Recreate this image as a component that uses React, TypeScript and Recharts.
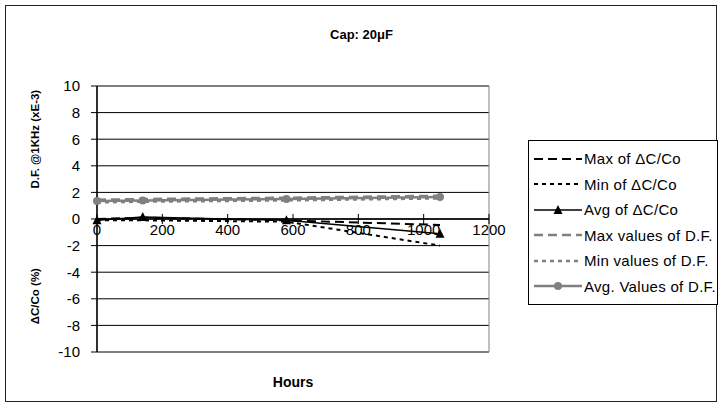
import { CartesianGrid, Legend, Line, LineChart, ReferenceArea, ReferenceDot, ReferenceLine, XAxis, YAxis } from "recharts"

const hours = [0, 140, 580, 1050]
const maxDC = [0.0, 0.1, -0.1, -0.45]
const minDC = [-0.1, -0.1, -0.2, -2.0]
const avgDC = [-0.1, 0.15, -0.1, -1.1]
const maxDF = [1.45, 1.5, 1.6, 1.75]
const minDF = [1.25, 1.3, 1.4, 1.55]
const avgDF = [1.35, 1.4, 1.5, 1.65]
const xTicks = [0, 200, 400, 600, 800, 1000, 1200]
const yTicks = [-10, -8, -6, -4, -2, 0, 2, 4, 6, 8, 10]

const data = hours.map((h, i) => ({
    hours: h,
    maxDC: maxDC[i],
    minDC: minDC[i],
    avgDC: avgDC[i],
    maxDF: maxDF[i],
    minDF: minDF[i],
    avgDF: avgDF[i],
}))

const FONT = "'Liberation Sans', Arial, sans-serif"
const GRAY = "#808080"

const series = [
    { key: "maxDC", name: "Max of ΔC/Co", color: "#000", dash: "9 5", width: 2, marker: "none" },
    { key: "minDC", name: "Min of ΔC/Co", color: "#000", dash: "4 4", width: 2, marker: "none" },
    { key: "avgDC", name: "Avg of ΔC/Co", color: "#000", dash: undefined, width: 1.5, marker: "triangle" },
    { key: "maxDF", name: "Max values of D.F.", color: GRAY, dash: "9 5", width: 2.5, marker: "none" },
    { key: "minDF", name: "Min values of D.F.", color: GRAY, dash: "4 4", width: 2.5, marker: "none" },
    { key: "avgDF", name: "Avg. Values of D.F.", color: GRAY, dash: undefined, width: 2.5, marker: "circle" },
]

const Triangle = (props: any) => {
    const { cx, cy } = props
    if (cx == null || cy == null) return null
    return <polygon points={`${cx},${cy - 5} ${cx - 4.5},${cy + 4} ${cx + 4.5},${cy + 4}`} fill="#000" />
}

const Dot = (props: any) => {
    const { cx, cy } = props
    if (cx == null || cy == null) return null
    return <circle cx={cx} cy={cy} r={4} fill={GRAY} />
}

const YLabels = (props: any) => {
    const vb = props.viewBox || { x: 0, y: 0, height: 0 }
    const x = vb.x + 35
    const top = vb.y + vb.height * 0.2
    const bottom = vb.y + vb.height * 0.79
    const style = { fontFamily: FONT, fontSize: 11.5, fontWeight: 700 }
    return (
        <g>
            <text x={x} y={top} transform={`rotate(-90 ${x} ${top})`} textAnchor="middle" dominantBaseline="central" style={style}>
                D.F. @1KHz (xE-3)
            </text>
            <text x={x} y={bottom} transform={`rotate(-90 ${x} ${bottom})`} textAnchor="middle" dominantBaseline="central" style={style}>
                ΔC/Co (%)
            </text>
        </g>
    )
}

const LegendBox = () => (
    <div style={{ border: "1px solid #000", background: "#fff", padding: "5px 0 5px 5px", fontFamily: FONT, fontSize: 15, letterSpacing: 0.3 }}>
        {series.map((s) => (
            <div key={s.key} style={{ display: "flex", alignItems: "center", height: 25.5 }}>
                <svg width={48} height={12} style={{ marginRight: 2 }}>
                    <line x1={0} y1={6} x2={48} y2={6} stroke={s.color} strokeWidth={s.width} strokeDasharray={s.dash} />
                    {s.marker === "triangle" && <polygon points="24,1 19.5,10 28.5,10" fill="#000" />}
                    {s.marker === "circle" && <circle cx={24} cy={6} r={4} fill={GRAY} />}
                </svg>
                <span style={{ whiteSpace: "nowrap" }}>{s.name}</span>
            </div>
        ))}
    </div>
)

const App = () => {
    return (
        <div style={{ position: "absolute", left: 0, top: 0, width: 723, height: 408, background: "#fff" }}>
            <div style={{ position: "absolute", left: 5, top: 5, width: 710, height: 395, border: "1.5px solid #222" }} />
            <div style={{ position: "absolute", left: 0, top: 27, width: 723, textAlign: "center", fontFamily: FONT, fontSize: 13, fontWeight: 700 }}>
                Cap: 20μF
            </div>
            <LineChart width={723} height={408} data={data} margin={{ top: 86, right: 234, bottom: 0, left: 0 }} style={{ position: "absolute", left: 0, top: 0 }}>
                <CartesianGrid vertical={false} stroke="#000" strokeWidth={1} horizontalValues={yTicks} />
                <ReferenceArea x1={0} x2={1200} y1={-10} y2={10} fill="none" stroke={GRAY} strokeWidth={1} />
                <XAxis
                    type="number"
                    dataKey="hours"
                    domain={[0, 1200]}
                    ticks={xTicks}
                    tick={false}
                    tickLine={false}
                    axisLine={false}
                    height={56}
                    label={{ value: "Hours", position: "insideBottom", offset: 21, style: { fontFamily: FONT, fontSize: 14, fontWeight: 700, fill: "#000" } }}
                />
                <YAxis
                    type="number"
                    domain={[-10, 10]}
                    ticks={yTicks}
                    interval={0}
                    width={97}
                    tickSize={6}
                    tickMargin={11}
                    tickLine={{ stroke: "#000" }}
                    axisLine={{ stroke: "#000", strokeWidth: 1.5 }}
                    tick={{ fontFamily: FONT, fontSize: 15, fill: "#000" }}
                    label={<YLabels />}
                />
                <ReferenceLine y={0} stroke="#000" strokeWidth={1.5} />
                {xTicks.map((t) => (
                    <ReferenceLine key={"tl" + t} segment={[{ x: t, y: -0.38 }, { x: t, y: 0.38 }]} stroke="#000" strokeWidth={1} />
                ))}
                {xTicks.map((t) => (
                    <ReferenceDot
                        key={"td" + t}
                        x={t}
                        y={0}
                        r={0}
                        fill="none"
                        stroke="none"
                        label={{ value: String(t), position: "bottom", offset: 5, style: { fontFamily: FONT, fontSize: 15, fill: "#000" } }}
                    />
                ))}
                {series.map((s) => (
                    <Line
                        key={s.key}
                        type="linear"
                        dataKey={s.key}
                        name={s.name}
                        stroke={s.color}
                        strokeWidth={s.width}
                        strokeDasharray={s.dash}
                        dot={s.marker === "triangle" ? <Triangle /> : s.marker === "circle" ? <Dot /> : false}
                        activeDot={false}
                        isAnimationActive={false}
                    />
                ))}
                <Legend
                    layout="horizontal"
                    verticalAlign="middle"
                    align="center"
                    content={<LegendBox />}
                    wrapperStyle={{ position: "absolute", left: 528, top: 140, width: 190 }}
                />
            </LineChart>
        </div>
    )
}

export default App
